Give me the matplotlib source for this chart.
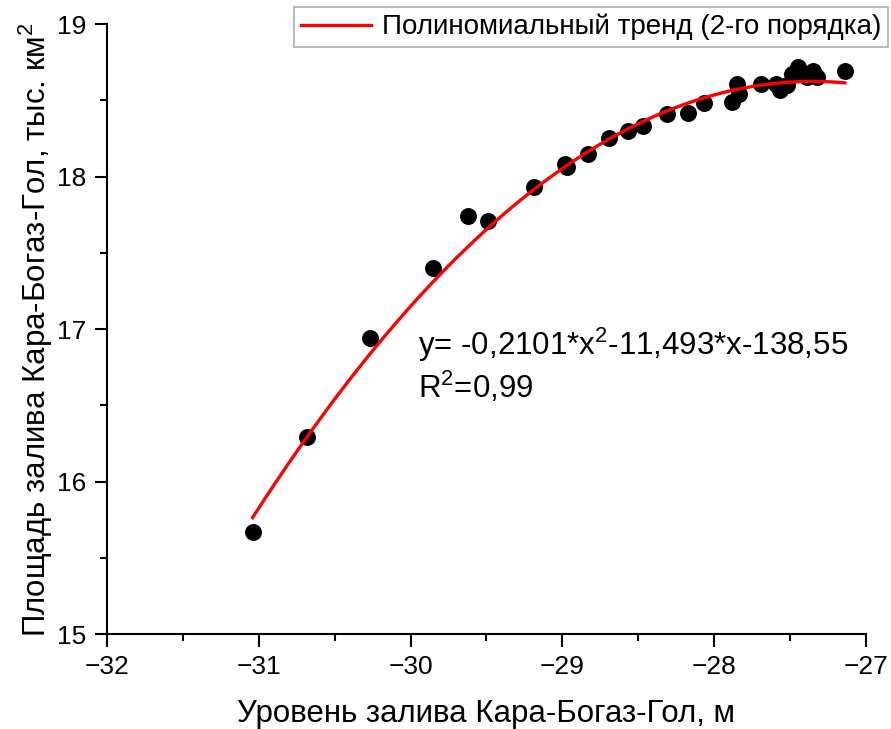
import matplotlib
matplotlib.use("Agg")

import matplotlib.pyplot as plt
import numpy as np
from matplotlib.ticker import MultipleLocator


# Уровень залива, м
level = [
    -31.04, -30.68, -30.27, -29.85, -29.62, -29.49, -29.19,
    -28.98, -28.97, -28.83, -28.69, -28.57, -28.47, -28.31,
    -28.17, -28.07, -27.88, -27.85, -27.84, -27.69, -27.59,
    -27.57, -27.52, -27.49, -27.45, -27.39, -27.35, -27.32,
    -27.14
]

# Площадь залива, тыс. км2
area = [
    15.67, 16.29, 16.94, 17.40, 17.74, 17.71, 17.93,
    18.08, 18.06, 18.15, 18.25, 18.30, 18.33, 18.41,
    18.42, 18.48, 18.49, 18.61, 18.54, 18.61, 18.61,
    18.57, 18.60, 18.67, 18.72, 18.65, 18.69, 18.65,
    18.69
]

# коэффициенты тренда с графика
trend_coef = [-0.2101, -11.493, -138.55]

FONT = "Liberation Sans"

plt.rcParams["font.family"] = [FONT, "DejaVu Sans"]
plt.rcParams["mathtext.fontset"] = "custom"
plt.rcParams["mathtext.rm"] = FONT
plt.rcParams["mathtext.it"] = FONT

fig = plt.figure(
    figsize=(8.91, 7.29),
    dpi=100,
    facecolor="white"
)

ax = fig.add_axes([0.120, 0.130, 0.852, 0.837])

ax.scatter(
    level,
    area,
    s=125,
    color="black",
    zorder=3
)

xt = np.linspace(min(level), max(level), 200)

ax.plot(
    xt,
    np.polyval(trend_coef, xt),
    color="red",
    linewidth=2.4,
    zorder=4,
    label="Полиномиальный тренд (2-го порядка)"
)

ax.set_xlim(-32, -27)
ax.set_ylim(15, 19)

ax.xaxis.set_major_locator(MultipleLocator(1))
ax.xaxis.set_minor_locator(MultipleLocator(0.5))
ax.yaxis.set_major_locator(MultipleLocator(1))
ax.yaxis.set_minor_locator(MultipleLocator(0.5))

for side in ["top", "right"]:
    ax.spines[side].set_visible(False)

for side in ["left", "bottom"]:
    ax.spines[side].set_linewidth(1.5)

ax.tick_params(
    which="major",
    length=9,
    width=1.5,
    labelsize=19,
    pad=6
)
ax.tick_params(
    which="minor",
    length=5,
    width=1.5
)

ax.set_xlabel(
    "Уровень залива Кара-Богаз-Гол, м",
    fontsize=22.5,
    labelpad=14
)
ax.set_ylabel(
    "Площадь залива Кара-Богаз-Гол, тыс. км$^{2}$",
    fontsize=22.5,
    labelpad=1
)

ax.text(
    -29.95,
    17.02,
    "y= -0,2101*x$^{2}$-11,493*x-138,55\nR$^{2}$=0,99",
    fontsize=22.5,
    va="top",
    ha="left",
    linespacing=1.2
)

leg = fig.legend(
    loc="upper right",
    bbox_to_anchor=(888 / 891, 1 - 7 / 729),
    fontsize=20,
    frameon=True,
    fancybox=False,
    edgecolor="#999999",
    handlelength=2.5,
    borderpad=0.25,
    handletextpad=0.4,
    borderaxespad=0
)
leg.get_frame().set_linewidth(1.2)

plt.savefig("out.png", dpi=100, facecolor="white")
plt.close(fig)
